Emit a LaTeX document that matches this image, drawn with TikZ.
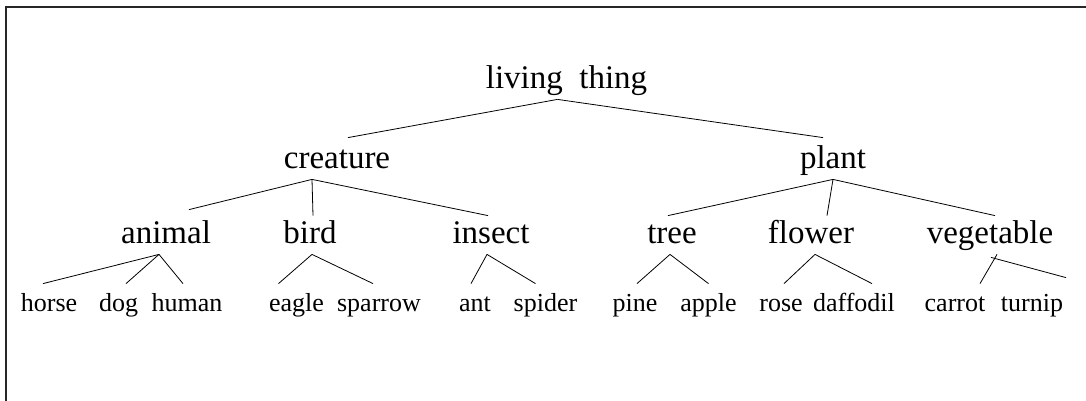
\documentclass[tikz,border=0pt]{standalone}
\usepackage{fontspec}
\setmainfont{Liberation Serif}
\tikzset{
  term/.style={anchor=base,inner sep=2pt,text height=24pt,text depth=9pt,font=\fontsize{33}{38}\selectfont},
  leaf/.style={term,font=\fontsize{26}{30}\selectfont}
}
\begin{document}
\begin{tikzpicture}[x=1pt,y=-1pt,line width=0.8pt]
\useasboundingbox (0,0) rectangle (1086,401);
\draw[line width=1.5pt,black!85] (6,401)--(6,7)--(1086,7);
% top two levels
\node[term] (living) at (566.5,89) {living\ \ thing};
\node[term] (creature) at (337,168) {creature};
\node[term] (plant) at (833,168) {plant};
\node[term] (animal) at (166,243) {animal};
\node[term] (bird) at (310,243) {bird};
\node[term] (insect) at (491,243) {insect};
\node[term] (tree) at (672,243) {tree};
\node[term] (flower) at (811,243) {flower};
\node[term] (veg) at (990,243) {vegetable};
% leaves
\node[leaf] (horse) at (49,311) {horse};
\node[leaf] (dog) at (118.5,311) {dog};
\node[leaf] (human) at (187,311) {human};
\node[leaf] (eagle) at (296.5,311) {eagle};
\node[leaf] (sparrow) at (379,311) {sparrow};
\node[leaf] (ant) at (475,311) {ant};
\node[leaf] (spider) at (545.5,311) {spider};
\node[leaf] (pine) at (635,311) {pine};
\node[leaf] (apple) at (708.5,311) {apple};
\node[leaf] (rose) at (781,311) {rose};
\node[leaf] (daffodil) at (854,311) {daffodil};
\node[leaf] (carrot) at (955,311) {carrot};
\node[leaf] (turnip) at (1032,311) {turnip};
% branches
\draw ([xshift=-9pt,yshift=1pt]living.south)--([xshift=11pt,yshift=4pt]creature.north);
\draw ([xshift=-9pt,yshift=1pt]living.south)--([xshift=-10pt,yshift=4pt]plant.north);
\draw ([xshift=-25pt]creature.south)--([xshift=23pt,yshift=7pt]animal.north);
\draw ([xshift=-25pt]creature.south)--([xshift=3pt,yshift=1pt]bird.north);
\draw ([xshift=-25pt]creature.south)--([xshift=-3pt,yshift=1pt]insect.north);
\draw (plant.south)--([xshift=-4pt,yshift=1pt]tree.north);
\draw (plant.south)--([xshift=16pt,yshift=1pt]flower.north);
\draw (plant.south)--([xshift=5pt,yshift=1pt]veg.north);
\draw ([xshift=-7pt]animal.south)--([xshift=-6pt,yshift=1pt]horse.north);
\draw ([xshift=-7pt]animal.south)--([xshift=7.5pt,yshift=1pt]dog.north);
\draw ([xshift=-7pt]animal.south)--([xshift=-4pt,yshift=1pt]human.north);
\draw ([xshift=2pt]bird.south)--([xshift=-18pt,yshift=1pt]eagle.north);
\draw ([xshift=2pt]bird.south)--([xshift=-6pt,yshift=1pt]sparrow.north);
\draw ([xshift=-4pt]insect.south)--([xshift=-4pt,yshift=1pt]ant.north);
\draw ([xshift=-4pt]insect.south)--([xshift=-10pt,yshift=1pt]spider.north);
\draw ([xshift=-2pt]tree.south)--([xshift=2pt,yshift=1pt]pine.north);
\draw ([xshift=-2pt]tree.south)--([yshift=1pt]apple.north);
\draw ([xshift=4pt]flower.south)--([xshift=3pt,yshift=1pt]rose.north);
\draw ([xshift=4pt]flower.south)--([xshift=18pt,yshift=1pt]daffodil.north);
\draw ([xshift=7pt]veg.south)--([xshift=25pt,yshift=1pt]carrot.north);
\draw ([xshift=1pt,yshift=-3pt]veg.south)--([xshift=34pt,yshift=7pt]turnip.north);
\end{tikzpicture}
\end{document}
